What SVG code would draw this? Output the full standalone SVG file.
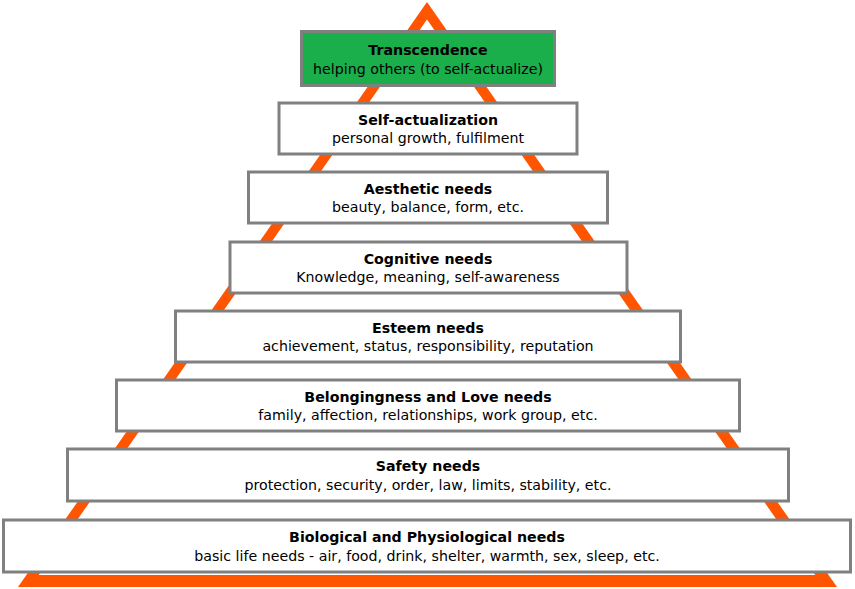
<svg xmlns="http://www.w3.org/2000/svg" width="855" height="589" viewBox="0 0 855 589">
<style>
.box{fill:#ffffff;stroke:#808080;stroke-width:3}
.green{fill:#1aaf4b}
.t{font-family:"DejaVu Sans","Liberation Sans",sans-serif;font-size:14.2px;fill:#000;text-anchor:middle}
.b{font-weight:bold}
</style>
<rect width="855" height="589" fill="#ffffff"/>
<g id="pyramid">
<polygon points="427,2 18,587 837,587" fill="#ff5500"/>
<polygon points="427,19.5 38.7,575 815.3,575" fill="#ffffff"/>
</g>
<g id="connectors"></g>
<g id="n1"><rect class="box green" x="301.5" y="31.5" width="253" height="54"/>
<text class="t b" x="428" y="55">Transcendence</text>
<text class="t" x="428" y="74">helping others (to self-actualize)</text></g>
<g id="n2"><rect class="box" x="279" y="103" width="298" height="51"/>
<text class="t b" x="428" y="125">Self-actualization</text>
<text class="t" x="428" y="143">personal growth, fulfilment</text></g>
<g id="n3"><rect class="box" x="248.5" y="172" width="359" height="51"/>
<text class="t b" x="428" y="194">Aesthetic needs</text>
<text class="t" x="428" y="212">beauty, balance, form, etc.</text></g>
<g id="n4"><rect class="box" x="230" y="242" width="397" height="51"/>
<text class="t b" x="428" y="264">Cognitive needs</text>
<text class="t" x="428" y="282">Knowledge, meaning, self-awareness</text></g>
<g id="n5"><rect class="box" x="175.5" y="311" width="505" height="51"/>
<text class="t b" x="428" y="333">Esteem needs</text>
<text class="t" x="428" y="351">achievement, status, responsibility, reputation</text></g>
<g id="n6"><rect class="box" x="116.5" y="380" width="623" height="51"/>
<text class="t b" x="428" y="402">Belongingness and Love needs</text>
<text class="t" x="428" y="420">family, affection, relationships, work group, etc.</text></g>
<g id="n7"><rect class="box" x="67.5" y="449" width="721" height="52"/>
<text class="t b" x="428" y="471">Safety needs</text>
<text class="t" x="428" y="490">protection, security, order, law, limits, stability, etc.</text></g>
<g id="n8"><rect class="box" x="3.5" y="520" width="847" height="52"/>
<text class="t b" x="427" y="542">Biological and Physiological needs</text>
<text class="t" x="427" y="561">basic life needs - air, food, drink, shelter, warmth, sex, sleep, etc.</text></g>
</svg>
